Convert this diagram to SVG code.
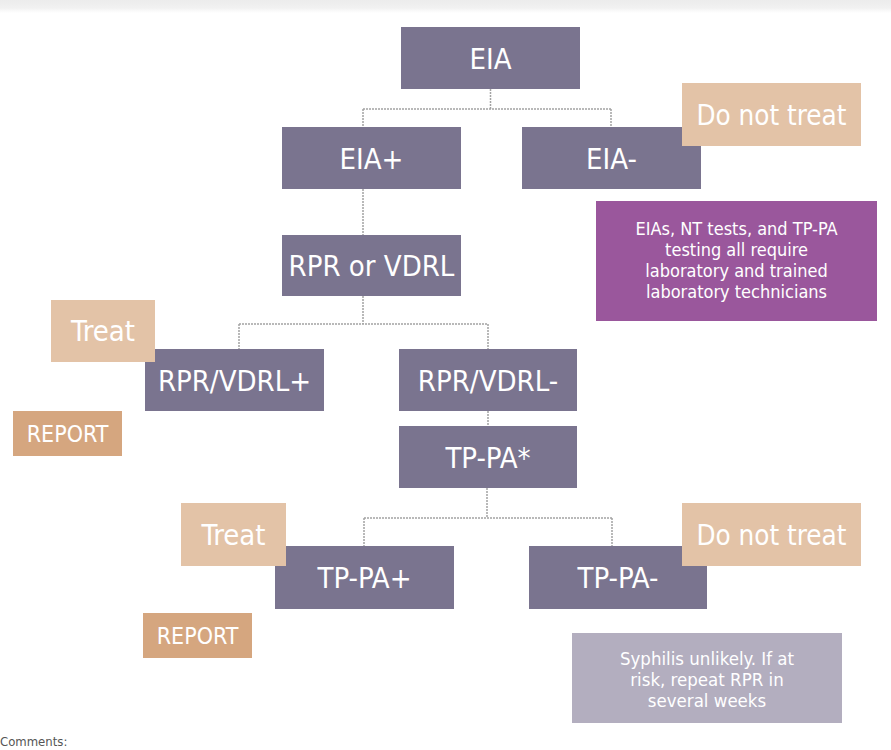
<svg xmlns="http://www.w3.org/2000/svg" width="891" height="750" viewBox="0 0 891 750">
<defs>
<linearGradient id="topbar" x1="0" y1="0" x2="0" y2="1">
<stop offset="0" stop-color="#ececec"/>
<stop offset="0.6" stop-color="#f1f1f1"/>
<stop offset="1" stop-color="#ffffff"/>
</linearGradient>
</defs>
<style>
.node{fill:#7a748f}
.lt{fill:#e3c3a7}
.rep{fill:#d5a67f}
.note1{fill:#9a579c}
.note2{fill:#b3aebf}
.t{font-family:"DejaVu Sans Condensed","DejaVu Sans","Liberation Sans",sans-serif;fill:#ffffff;text-anchor:middle}
.big{font-size:29px}
.mid{font-size:23px}
.sm{font-size:18px}
.sy{font-size:18.5px}
.conn{fill:none;stroke:#a3a3a3;stroke-width:1.5;stroke-dasharray:2 1}
</style>
<rect x="0" y="0" width="891" height="750" fill="#ffffff"/>
<rect x="0" y="0" width="891" height="13" fill="url(#topbar)"/>

<g id="connectors">
<path class="conn" d="M490.5 89 V109 M363 109 H611 M363 109 V127 M611 109 V127"/>
<path class="conn" d="M363 189 V235"/>
<path class="conn" d="M363 296 V324 M239 324 H488 M239 324 V349 M488 324 V349"/>
<path class="conn" d="M488 411 V426"/>
<path class="conn" d="M487 488 V518 M364 518 H612 M364 518 V546 M612 518 V546"/>
</g>

<g id="eia"><rect class="node" x="401" y="27" width="179" height="62"/><text class="t big" x="490.5" y="68.5">EIA</text></g>
<g id="eia-pos"><rect class="node" x="282" y="127" width="179" height="62"/><text class="t big" x="371.5" y="168.5">EIA+</text></g>
<g id="eia-neg"><rect class="node" x="522" y="127" width="179" height="62"/><text class="t big" x="611.5" y="168.5">EIA-</text></g>
<g id="donottreat1"><rect class="lt" x="682" y="83" width="179" height="63"/><text class="t big" x="771.5" y="124.5" textLength="150" lengthAdjust="spacingAndGlyphs">Do not treat</text></g>
<g id="note-lab"><rect class="note1" x="596" y="201" width="281" height="120"/>
<text class="t sm" x="736.5" y="235">EIAs, NT tests, and TP-PA</text>
<text class="t sm" x="736.5" y="256">testing all require</text>
<text class="t sm" x="736.5" y="277">laboratory and trained</text>
<text class="t sm" x="736.5" y="298">laboratory technicians</text>
</g>
<g id="rpr"><rect class="node" x="282" y="235" width="179" height="61"/><text class="t big" x="371.5" y="276">RPR or VDRL</text></g>
<g id="rpr-pos"><rect class="node" x="145" y="349" width="179" height="62"/><text class="t big" x="234.5" y="390.5">RPR/VDRL+</text></g>
<g id="treat1"><rect class="lt" x="51" y="300" width="104" height="62"/><text class="t big" x="103" y="341">Treat</text></g>
<g id="rpr-neg"><rect class="node" x="399" y="349" width="178" height="62"/><text class="t big" x="488" y="390.5">RPR/VDRL-</text></g>
<g id="report1"><rect class="rep" x="13" y="411" width="109" height="45"/><text class="t mid" x="67.5" y="442">REPORT</text></g>
<g id="tppa"><rect class="node" x="399" y="426" width="178" height="62"/><text class="t big" x="488" y="467.5">TP-PA*</text></g>
<g id="tppa-pos"><rect class="node" x="275" y="546" width="179" height="63"/><text class="t big" x="364.5" y="588">TP-PA+</text></g>
<g id="treat2"><rect class="lt" x="181" y="503" width="105" height="63"/><text class="t big" x="233.5" y="544.5">Treat</text></g>
<g id="tppa-neg"><rect class="node" x="529" y="546" width="178" height="63"/><text class="t big" x="618" y="588">TP-PA-</text></g>
<g id="donottreat2"><rect class="lt" x="682" y="503" width="179" height="63"/><text class="t big" x="771.5" y="544.5" textLength="150" lengthAdjust="spacingAndGlyphs">Do not treat</text></g>
<g id="report2"><rect class="rep" x="143" y="613" width="109" height="45"/><text class="t mid" x="197.5" y="644">REPORT</text></g>
<g id="note-syph"><rect class="note2" x="572" y="633" width="270" height="90"/>
<text class="t sy" x="707" y="665">Syphilis unlikely. If at</text>
<text class="t sy" x="707" y="686">risk, repeat RPR in</text>
<text class="t sy" x="707" y="707">several weeks</text>
</g>
<text x="0" y="746" font-family="DejaVu Sans Condensed, DejaVu Sans, sans-serif" font-size="13" fill="#555555">Comments:</text>
</svg>
